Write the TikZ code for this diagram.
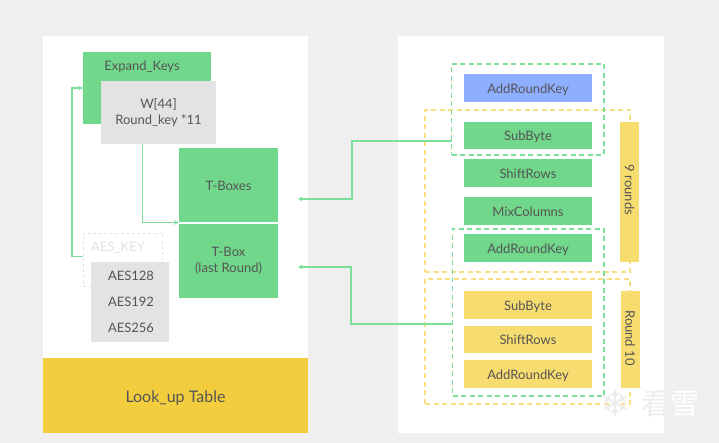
\documentclass[tikz,border=0pt]{standalone}
\usepackage{fontspec}
\setmainfont{Lato}
\newfontfamily\cjkwm{Noto Sans CJK SC}
\newfontfamily\symwm{DejaVu Sans}
\definecolor{pagebg}{HTML}{EFEFEF}
\definecolor{greenbox}{HTML}{70D78B}
\definecolor{greenline}{HTML}{7DE09A}
\definecolor{yellowbox}{HTML}{F7DC6F}
\definecolor{yellowdeep}{HTML}{F2CE3E}
\definecolor{yellowline}{HTML}{F8DF82}
\definecolor{bluebox}{HTML}{8EAEFF}
\definecolor{greybox}{HTML}{E3E3E3}
\definecolor{textgrey}{HTML}{555555}
\definecolor{wmgrey}{HTML}{EDEDED}
\usetikzlibrary{arrows.meta}
\tikzset{
  x=1pt,y=-1pt,
  solidbox/.style={inner sep=0pt,outer sep=0pt,text=textgrey,align=center,font=\fontsize{13}{15.5}\selectfont},
  oneline/.style={text height=10.5pt,text depth=0pt},
  gbox/.style={solidbox,fill=greenbox},
  ybox/.style={solidbox,fill=yellowbox},
  bbox/.style={solidbox,fill=bluebox},
  greyb/.style={solidbox,fill=greybox},
  panel/.style={fill=white,draw=none},
  gdash/.style={draw=greenline,line width=1.2pt,dash pattern=on 5pt off 3.5pt,inner sep=0pt,outer sep=0pt},
  ydash/.style={draw=yellowline,line width=1.2pt,dash pattern=on 5pt off 3.5pt,inner sep=0pt,outer sep=0pt},
  link/.style={draw=greenline,line width=1.4pt,-{Stealth[length=4.5pt,width=4.5pt]}},
  wmflakestyle/.style={font=\symwm\fontsize{36}{36}\selectfont,inner sep=0pt},
  wmtextstyle/.style={font=\cjkwm\fontsize{29}{29}\selectfont,inner sep=0pt},
}
% name, x1, y1, x2, y2, style, text
\newcommand{\placebox}[7]{%
  \pgfmathsetmacro{\bw}{#4-#2}\pgfmathsetmacro{\bh}{#5-#3}%
  \pgfmathsetmacro{\cx}{(#2+#4)/2}\pgfmathsetmacro{\cy}{(#3+#5)/2}%
  \node[#6,minimum width=\bw pt,minimum height=\bh pt] (#1) at (\cx,\cy) {#7};}
\begin{document}
\begin{tikzpicture}
\path[use as bounding box,fill=pagebg] (0,0) rectangle (719,443);
\fill[panel] (43,36) rectangle (308,433);
\fill[panel] (398,36) rectangle (664,433);
\placebox{lookup}{43}{358}{308}{433}{solidbox,fill=yellowdeep,font=\fontsize{16}{18}\selectfont,text height=13pt,text depth=0pt}{Look\_up Table}
% left panel
\placebox{expand}{83}{52}{211}{124}{gbox,text depth=0pt}{}
\node[solidbox] (expandlabel) at (142,66.5) {Expand\_Keys};
\placebox{wkeys}{101}{81}{216}{144}{greyb}{W[44]\\Round\_key *11}
\placebox{tboxes}{179}{148}{278}{222.5}{gbox,oneline}{T-Boxes}
\placebox{tlast}{179}{224}{278}{298}{gbox}{T-Box\\(last Round)}
\placebox{aeskey}{83}{233}{162}{286}{solidbox,draw=greybox,line width=0.9pt,dash pattern=on 3pt off 2.5pt}{}
\node[solidbox,text=greybox] (aeslabel) at (118,247.5) {AES\_KEY};
\placebox{aeslist}{91}{262}{169}{342}{greyb}{}
\node[solidbox] (a128) at (131,276) {AES128};
\node[solidbox] (a192) at (131,301.5) {AES192};
\node[solidbox] (a256) at (131,328) {AES256};
% right panel frames
\placebox{yframeA}{425}{110}{630}{272}{ydash}{}
\placebox{yframeB}{425}{279}{630}{404}{ydash}{}
\placebox{gframeA}{451.5}{64}{604}{155}{gdash}{}
\placebox{gframeB}{452.5}{229}{604}{396}{gdash}{}
% right panel boxes
\placebox{ark}{464}{74}{592}{102}{bbox,oneline}{AddRoundKey}
\placebox{sub}{464}{122}{592}{149.5}{gbox,oneline}{SubByte}
\placebox{shift}{464}{159}{592}{187}{gbox,oneline}{ShiftRows}
\placebox{mix}{464}{197}{592}{225}{gbox,oneline}{MixColumns}
\placebox{arkb}{464}{234}{592}{262}{gbox,oneline}{AddRoundKey}
\placebox{suby}{464}{291}{592}{319}{ybox,oneline}{SubByte}
\placebox{shifty}{464}{325.5}{592}{353}{ybox,oneline}{ShiftRows}
\placebox{arky}{464}{360}{592}{388}{ybox,oneline}{AddRoundKey}
\placebox{nine}{620}{122}{639}{262}{ybox}{}
\node[solidbox,rotate=-90] (ninelabel) at (629.5,190) {9 rounds};
\placebox{ten}{620.5}{291}{639.5}{388}{ybox}{}
\node[solidbox,rotate=-90] (tenlabel) at (630,338) {Round 10};
% connectors
\coordinate (ainto) at (83,88);
\coordinate (aout) at (83,256.5);
\draw[link] (aout) -- (72,256.5) -- (72,88) -- (ainto);
\coordinate (wout) at (142.5,144);
\coordinate (tin) at (178.5,222.5);
\draw[link] (wout) -- (142.5,222.5) -- (tin);
\coordinate (gAout) at (451.5,141);
\coordinate (t1in) at (298,199);
\draw[link] (gAout) -- (352,141) -- (352,199) -- (t1in);
\coordinate (gBout) at (452.5,324);
\coordinate (t2in) at (298,267);
\draw[link] (gBout) -- (351,324) -- (351,267) -- (t2in);
% watermark: pale grey on the white panel, white on the grey page
\node[text=wmgrey,wmflakestyle] (wmflake) at (616,403) {\char"2744};
\node[wmtextstyle] (wmtext) at (670,404) {\textcolor{wmgrey}{看}\textcolor{white}{雪}};
\end{tikzpicture}
\end{document}
